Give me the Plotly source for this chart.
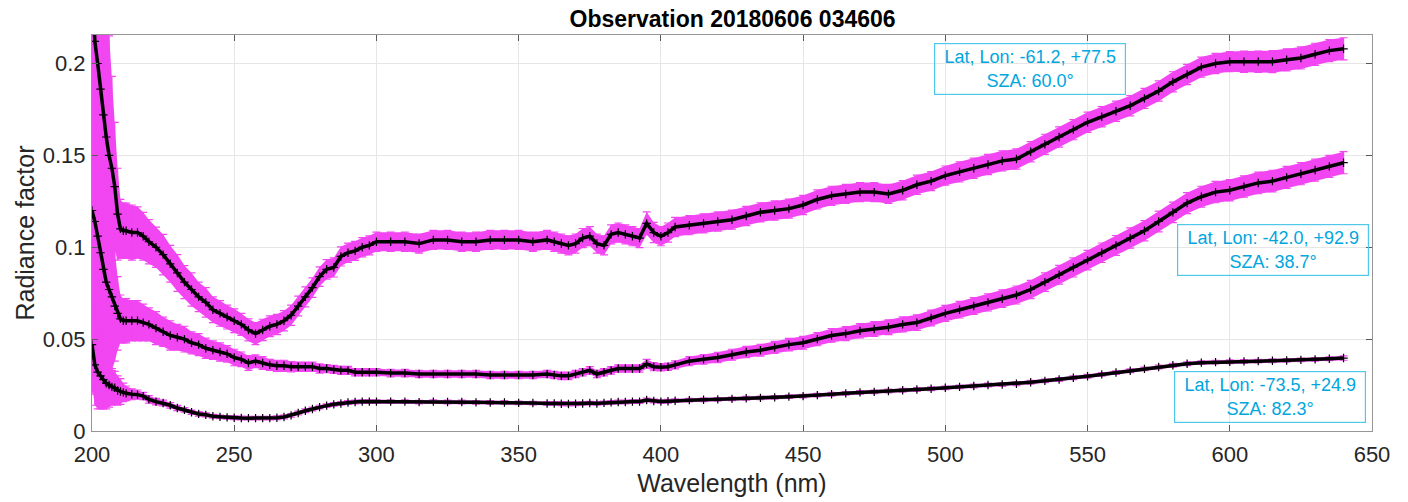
import plotly.graph_objects as go

# ---------------- data ----------------
wavelength_nm = [
    200, 201, 202, 203, 204, 205, 206, 207, 208, 209, 210, 211, 212,
    214, 216, 218, 220,
    222.5, 225, 227.5, 230, 232.5, 235, 237.5, 240, 242.5, 245, 247.5, 250,
    252.5, 255, 257.5, 260, 262.5, 265, 267.5, 270, 272.5, 275, 277.5, 280,
    282.5, 285, 287.5, 290, 292.5, 295, 297.5, 300,
    305, 310, 315, 320, 325, 330, 335, 340, 345, 350, 355, 360,
    362.5, 365, 367.5, 370, 372.5, 375, 377.5, 380, 382.5, 385, 387.5, 390,
    392.5, 395, 397.5, 400, 402.5, 405,
    410, 415, 420, 425, 430, 435, 440, 445, 450, 455, 460, 465, 470, 475,
    480, 485, 490, 495, 500, 505, 510, 515, 520, 525, 530, 535, 540, 545,
    550, 555, 560, 565, 570, 575, 580, 585, 590, 595, 600, 605, 610, 615,
    620, 625, 630, 635, 640,
]

# Lat, Lon: -61.2, +77.5  (SZA 60.0)
rf_a = [
    0.250, 0.212, 0.200, 0.186, 0.172, 0.160, 0.150, 0.143, 0.133, 0.118, 0.110, 0.109, 0.109,
    0.108, 0.108, 0.106, 0.103,
    0.100, 0.096, 0.091, 0.086, 0.081, 0.077, 0.073, 0.070, 0.066, 0.064, 0.062, 0.060,
    0.058, 0.055, 0.053, 0.055, 0.057, 0.058, 0.060, 0.063, 0.068, 0.073, 0.078, 0.084,
    0.088, 0.089, 0.095, 0.097, 0.098, 0.100, 0.101, 0.103,
    0.103, 0.103, 0.102, 0.104, 0.104, 0.103, 0.103, 0.104, 0.104, 0.104, 0.103, 0.104,
    0.103, 0.102, 0.101, 0.102, 0.105, 0.106, 0.102, 0.101, 0.107, 0.108, 0.107, 0.106,
    0.105, 0.113, 0.108, 0.106, 0.108, 0.111,
    0.112, 0.113, 0.114, 0.115, 0.117, 0.119, 0.120, 0.121, 0.123, 0.126, 0.128, 0.129, 0.130, 0.130,
    0.129, 0.131, 0.134, 0.136, 0.139, 0.141, 0.143, 0.145, 0.147, 0.148, 0.152, 0.156, 0.160, 0.164,
    0.168, 0.171, 0.174, 0.177, 0.181, 0.185, 0.190, 0.194, 0.198, 0.200, 0.201, 0.201, 0.201, 0.201,
    0.202, 0.203, 0.205, 0.207, 0.208,
]
err_a = [
    0.20, 0.18, 0.15, 0.12, 0.10, 0.08, 0.065, 0.05, 0.035, 0.025, 0.016, 0.015, 0.015,
    0.015, 0.014, 0.013, 0.012,
    0.011, 0.011, 0.010, 0.010, 0.009, 0.009, 0.008, 0.008, 0.007, 0.007, 0.0065, 0.0065,
    0.006, 0.006, 0.006, 0.0058, 0.0056, 0.0055, 0.0055, 0.0055, 0.0054, 0.0054, 0.0053, 0.0053,
    0.0053, 0.0052, 0.0052, 0.0052, 0.0052, 0.0052, 0.0052, 0.0052,
    0.0052, 0.0052, 0.0052, 0.0052, 0.0052, 0.0052, 0.0052, 0.0052, 0.0052, 0.0052, 0.0052, 0.0052,
    0.0052, 0.0052, 0.0052, 0.0052, 0.0052, 0.0052, 0.0052, 0.0052, 0.0052, 0.0052, 0.0052, 0.0052,
    0.0052, 0.0062, 0.0055, 0.0052, 0.0052, 0.0052,
    0.0052, 0.0052, 0.0052, 0.0052, 0.0052, 0.0052, 0.0052, 0.0052, 0.0052, 0.0052, 0.0052, 0.0052, 0.0052, 0.0052,
    0.0052, 0.0052, 0.0052, 0.0052, 0.0052, 0.0055, 0.0055, 0.0055, 0.0055, 0.0055, 0.0055, 0.0055, 0.0055, 0.0055,
    0.0055, 0.0055, 0.0055, 0.0055, 0.0055, 0.0055, 0.0055, 0.0055, 0.0055, 0.0055, 0.0055, 0.0058, 0.0058, 0.006,
    0.006, 0.006, 0.006, 0.006, 0.006,
]

# Lat, Lon: -42.0, +92.9  (SZA 38.7)
rf_b = [
    0.120, 0.114, 0.106, 0.097, 0.088, 0.081, 0.077, 0.073, 0.068, 0.064, 0.061, 0.060, 0.060,
    0.060, 0.060, 0.059, 0.058,
    0.056, 0.054, 0.052, 0.051, 0.050, 0.048, 0.047, 0.045, 0.044, 0.043, 0.042, 0.040,
    0.039, 0.037, 0.038, 0.037, 0.036, 0.0355, 0.0355, 0.035, 0.035, 0.035, 0.035, 0.034,
    0.034, 0.0335, 0.033, 0.033, 0.032, 0.032, 0.032, 0.032,
    0.0315, 0.0315, 0.031, 0.031, 0.031, 0.031, 0.031, 0.0305, 0.0305, 0.0305, 0.0305, 0.031,
    0.0305, 0.030, 0.030, 0.031, 0.032, 0.033, 0.031, 0.032, 0.033, 0.034, 0.034, 0.034,
    0.034, 0.0365, 0.035, 0.0347, 0.035, 0.036,
    0.038, 0.039, 0.040, 0.0415, 0.043, 0.044, 0.0455, 0.047, 0.048, 0.050, 0.052, 0.053, 0.0545, 0.0555,
    0.0565, 0.058, 0.059, 0.0615, 0.064, 0.066, 0.068, 0.070, 0.072, 0.074, 0.077, 0.081, 0.085, 0.089,
    0.093, 0.097, 0.101, 0.105, 0.109, 0.114, 0.119, 0.124, 0.1275, 0.130, 0.131, 0.133, 0.135, 0.136,
    0.138, 0.140, 0.142, 0.144, 0.146,
]
err_b = [
    0.10, 0.09, 0.08, 0.07, 0.06, 0.05, 0.045, 0.04, 0.03, 0.02, 0.013, 0.012, 0.012,
    0.011, 0.011, 0.010, 0.009,
    0.009, 0.008, 0.008, 0.007, 0.007, 0.006, 0.006, 0.0055, 0.005, 0.005, 0.0045, 0.0045,
    0.004, 0.004, 0.0035, 0.0035, 0.003, 0.003, 0.003, 0.0028, 0.0025, 0.0025, 0.0025, 0.0025,
    0.0022, 0.0022, 0.0022, 0.0022, 0.002, 0.002, 0.002, 0.002,
    0.002, 0.002, 0.002, 0.002, 0.002, 0.002, 0.002, 0.002, 0.002, 0.002, 0.002, 0.002,
    0.002, 0.002, 0.002, 0.002, 0.002, 0.002, 0.002, 0.002, 0.002, 0.002, 0.002, 0.002,
    0.002, 0.0025, 0.0022, 0.002, 0.002, 0.0022,
    0.0025, 0.0026, 0.0028, 0.003, 0.0031, 0.0032, 0.0033, 0.0034, 0.0035, 0.0036, 0.0037, 0.0038, 0.0039, 0.004,
    0.004, 0.0041, 0.0042, 0.0043, 0.0044, 0.0045, 0.0046, 0.0047, 0.0048, 0.0049, 0.005, 0.005, 0.0051, 0.0052,
    0.0053, 0.0053, 0.0054, 0.0055, 0.0055, 0.0056, 0.0056, 0.0057, 0.0057, 0.0058, 0.0058, 0.0058, 0.0059, 0.0059,
    0.006, 0.006, 0.006, 0.006, 0.006,
]

# Lat, Lon: -73.5, +24.9  (SZA 82.3)
rf_c = [
    0.047, 0.036, 0.032, 0.030, 0.028, 0.026, 0.025, 0.024, 0.0235, 0.022, 0.0215, 0.021, 0.0205,
    0.020, 0.0198, 0.019, 0.0172,
    0.016, 0.0152, 0.014, 0.0125, 0.0115, 0.0102, 0.0093, 0.0088, 0.008, 0.0077, 0.0074, 0.0072,
    0.0071, 0.007, 0.007, 0.007, 0.007, 0.0072, 0.0076, 0.0085, 0.0098, 0.011, 0.012, 0.013,
    0.0138, 0.0145, 0.015, 0.0155, 0.0158, 0.016, 0.016, 0.016,
    0.016, 0.016, 0.0157, 0.016, 0.0158, 0.0158, 0.0156, 0.0155, 0.0155, 0.0153, 0.0152, 0.015,
    0.015, 0.0148, 0.0147, 0.0148, 0.015, 0.0152, 0.015, 0.0153, 0.0156, 0.0158, 0.0158, 0.016,
    0.016, 0.0169, 0.0163, 0.016, 0.0162, 0.0165,
    0.0168, 0.017, 0.0172, 0.0175, 0.0178, 0.018, 0.0183, 0.0187, 0.019, 0.0195, 0.020, 0.0205, 0.021, 0.0213,
    0.0218, 0.0222, 0.0226, 0.023, 0.0235, 0.024, 0.0245, 0.025, 0.0253, 0.0257, 0.0265, 0.0273, 0.028, 0.029,
    0.0298, 0.0308, 0.0318, 0.0328, 0.0338, 0.0348, 0.0358, 0.0366, 0.0372, 0.0375, 0.0377, 0.0379, 0.038, 0.0382,
    0.0384, 0.0387, 0.039, 0.0393, 0.0397,
]
err_c = [
    0.022, 0.022, 0.020, 0.018, 0.016, 0.014, 0.012, 0.010, 0.009, 0.008, 0.007, 0.005, 0.004,
    0.003, 0.0025, 0.002, 0.002,
    0.0018, 0.0016, 0.0015, 0.0014, 0.0013, 0.0012, 0.0012, 0.0011, 0.001, 0.001, 0.001, 0.001,
    0.001, 0.001, 0.001, 0.001, 0.001, 0.001, 0.001, 0.001, 0.001, 0.001, 0.001, 0.001,
    0.001, 0.001, 0.001, 0.001, 0.001, 0.001, 0.001, 0.001,
    0.001, 0.001, 0.001, 0.001, 0.001, 0.001, 0.001, 0.001, 0.001, 0.001, 0.001, 0.001,
    0.001, 0.001, 0.001, 0.001, 0.001, 0.001, 0.001, 0.001, 0.001, 0.001, 0.001, 0.001,
    0.001, 0.001, 0.001, 0.001, 0.001, 0.001,
    0.001, 0.001, 0.001, 0.001, 0.001, 0.001, 0.001, 0.001, 0.001, 0.001, 0.001, 0.001, 0.001, 0.001,
    0.001, 0.001, 0.001, 0.001, 0.001, 0.001, 0.001, 0.001, 0.001, 0.001, 0.001, 0.001, 0.001, 0.001,
    0.001, 0.001, 0.001, 0.001, 0.001, 0.001, 0.001, 0.001, 0.001, 0.001, 0.001, 0.001, 0.001, 0.001,
    0.001, 0.001, 0.001, 0.001, 0.0012,
]

series_values = [rf_a, rf_b, rf_c]
series_errors = [err_a, err_b, err_c]
box_texts = [
    "Lat, Lon: -61.2, +77.5<br>SZA: 60.0°",
    "Lat, Lon: -42.0, +92.9<br>SZA: 38.7°",
    "Lat, Lon: -73.5, +24.9<br>SZA: 82.3°",
]
x_ticks = [200, 250, 300, 350, 400, 450, 500, 550, 600, 650]
y_ticks = [0, 0.05, 0.1, 0.15, 0.2]
title_text = "Observation 20180606 034606"

# ---------------- styling ----------------
MAGENTA = "rgb(242,70,242)"
FONT = "Arial, Liberation Sans, Helvetica, sans-serif"
BOX_COLOR = "rgb(80,200,236)"
BOX_TEXT = "rgb(0,166,222)"

fig = go.Figure()

# error bands + error bars (magenta)
for vals, errs in zip(series_values, series_errors):
    upper = [v + e for v, e in zip(vals, errs)]
    lower = [v - e for v, e in zip(vals, errs)]
    fig.add_trace(go.Scatter(x=wavelength_nm, y=upper, mode="lines",
                             line=dict(width=0, color=MAGENTA),
                             showlegend=False, hoverinfo="skip"))
    fig.add_trace(go.Scatter(x=wavelength_nm, y=lower, mode="lines",
                             line=dict(width=0, color=MAGENTA),
                             fill="tonexty", fillcolor=MAGENTA,
                             showlegend=False, hoverinfo="skip"))
    fig.add_trace(go.Scatter(x=wavelength_nm, y=vals, mode="markers",
                             marker=dict(size=1, color=MAGENTA),
                             error_y=dict(type="data", array=errs, visible=True,
                                          color=MAGENTA, thickness=1.2, width=4),
                             showlegend=False, hoverinfo="skip"))

# black data lines with + markers
for vals in series_values:
    fig.add_trace(go.Scatter(x=wavelength_nm, y=vals, mode="lines+markers",
                             line=dict(color="black", width=3.5),
                             marker=dict(symbol="cross-thin", size=6,
                                         line=dict(color="black", width=1.2)),
                             showlegend=False))

box_pos = [(0.7325, 0.9154), (0.9226, 0.457), (0.920, 0.0846)]
for txt, (px, py) in zip(box_texts, box_pos):
    fig.add_annotation(text=txt, xref="paper", yref="paper", x=px, y=py,
                       xanchor="center", yanchor="middle", showarrow=False,
                       align="center", width=184,
                       font=dict(family=FONT, size=18, color=BOX_TEXT),
                       bordercolor=BOX_COLOR, borderwidth=1.2, borderpad=3)

axis_common = dict(
    showline=True, linecolor="rgb(150,150,150)", linewidth=1, mirror="ticks",
    ticks="inside", ticklen=6, tickcolor="rgb(90,90,90)", tickwidth=1,
    showgrid=True, gridcolor="rgb(230,230,230)", gridwidth=1, zeroline=False,
    automargin=False,
    tickfont=dict(family=FONT, size=22, color="rgb(38,38,38)"),
)

fig.update_xaxes(range=[200, 650], tickvals=x_ticks,
                 title=dict(text="Wavelength (nm)", standoff=8,
                            font=dict(family=FONT, size=25, color="rgb(38,38,38)")),
                 ticklabelstandoff=4, **axis_common)
fig.update_yaxes(range=[0, 0.2155], tickvals=y_ticks,
                 title=dict(text="Radiance factor", standoff=1,
                            font=dict(family=FONT, size=25, color="rgb(38,38,38)")),
                 ticklabelstandoff=1, **axis_common)

fig.update_layout(
    width=1408, height=502,
    margin=dict(l=92, r=36, t=35, b=71),
    paper_bgcolor="white", plot_bgcolor="white",
    title=dict(text="<b>" + title_text + "</b>", x=0.5203, xanchor="center",
               y=0.962, yanchor="middle", yref="container",
               font=dict(family=FONT, size=23, color="black")),
    showlegend=False,
)

fig.write_html("out.html", config={"displayModeBar": False},
               post_script="document.body.style.margin='0';document.body.style.padding='0';")
